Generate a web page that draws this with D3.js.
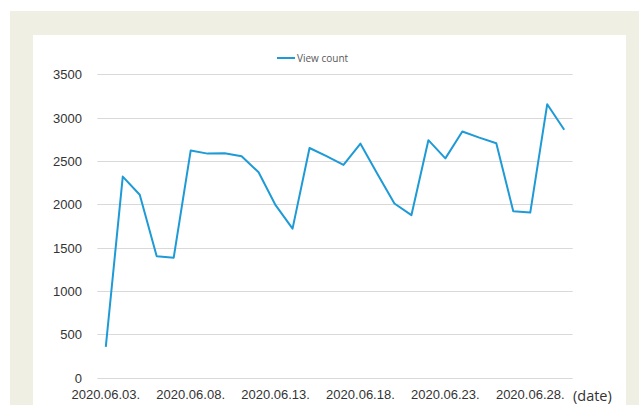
<!DOCTYPE html>
<meta charset="utf-8">
<head>
  <title>View count</title>
</head>

<style>
body {
  margin: 0;
  background: #fff;
  font-family: "Open Sans", "Noto Sans", sans-serif;
}

svg {
  display: block;
}

.grid line {
  stroke: #d9d9d9;
  stroke-width: 1;
}

.axis text {
  fill: #333;
  font-size: 13px;
}

.legend text {
  fill: #595959;
  font-size: 10px;
}

.series {
  fill: none;
  stroke: #1e9ad6;
  stroke-width: 2;
  stroke-linejoin: round;
}
</style>

<body>
  <svg width="639" height="405"></svg>

  <script src="https://cdnjs.cloudflare.com/ajax/libs/d3/7.8.5/d3.min.js"></script>

  <script>
// days 2020.06.03. .. 2020.06.30.
var days = d3.range(3, 31).map(function(d) {
  return '2020.06.' + (d < 10 ? '0' + d : d) + '.';
});

var viewCount = [
  355, 2320, 2110, 1400, 1385, 2620, 2585, 2590, 2555, 2370,
  1990, 1720, 2650, 2555, 2455, 2700, 2350, 2010, 1875, 2740,
  2530, 2840, 2770, 2705, 1920, 1905, 3155, 2860
];

var yTicks = [0, 500, 1000, 1500, 2000, 2500, 3000, 3500];
var xTickLabels = ['2020.06.03.', '2020.06.08.', '2020.06.13.', '2020.06.18.', '2020.06.23.', '2020.06.28.'];

var svg = d3.select('svg');

// page frame
svg.append('rect')
  .attr('x', 10).attr('y', 11)
  .attr('width', 629).attr('height', 394)
  .attr('fill', '#efefe4');

svg.append('rect')
  .attr('x', 33).attr('y', 35)
  .attr('width', 593).attr('height', 370)
  .attr('fill', '#fff');

var x = d3.scaleBand()
  .domain(days)
  .range([97.3, 572.7]);

var y = d3.scaleLinear()
  .domain([0, 3500])
  .range([377.7, 74.3]);

// grid
svg.append('g')
  .attr('class', 'grid')
  .selectAll('line')
  .data(yTicks)
  .enter()
  .append('line')
  .attr('x1', x.range()[0])
  .attr('x2', x.range()[1])
  .attr('y1', function(d) { return Math.round(y(d)) + 0.5; })
  .attr('y2', function(d) { return Math.round(y(d)) + 0.5; });

// y axis labels
var yAxis = d3.axisLeft(y)
  .tickValues(yTicks)
  .tickFormat(d3.format('d'))
  .tickSize(0)
  .tickPadding(15);

svg.append('g')
  .attr('class', 'axis')
  .attr('transform', 'translate(97,0)')
  .call(yAxis)
  .call(function(g) { g.select('.domain').remove(); })
  .selectAll('text')
  .attr('dy', '0.35em');

// x axis labels
var xAxis = d3.axisBottom(x)
  .tickValues(xTickLabels)
  .tickSize(0)
  .tickPadding(12);

svg.append('g')
  .attr('class', 'axis')
  .attr('transform', 'translate(0,' + y(0) + ')')
  .call(xAxis)
  .call(function(g) { g.select('.domain').remove(); });

svg.append('text')
  .attr('x', 573)
  .attr('y', 401)
  .attr('fill', '#333')
  .style('font-size', '14.5px')
  .text('(date)');

// line
var line = d3.line()
  .x(function(d, i) { return x(days[i]) + x.bandwidth() / 2; })
  .y(function(d) { return y(d); });

svg.append('path')
  .datum(viewCount)
  .attr('class', 'series')
  .attr('d', line);

// legend
var legend = svg.append('g').attr('class', 'legend');
legend.append('line')
  .attr('x1', 277).attr('x2', 295)
  .attr('y1', 58).attr('y2', 58)
  .attr('stroke', '#1e9ad6')
  .attr('stroke-width', 2);
legend.append('text')
  .attr('x', 297)
  .attr('y', 61.5)
  .text('View count');
  </script>
</body>
</html>
